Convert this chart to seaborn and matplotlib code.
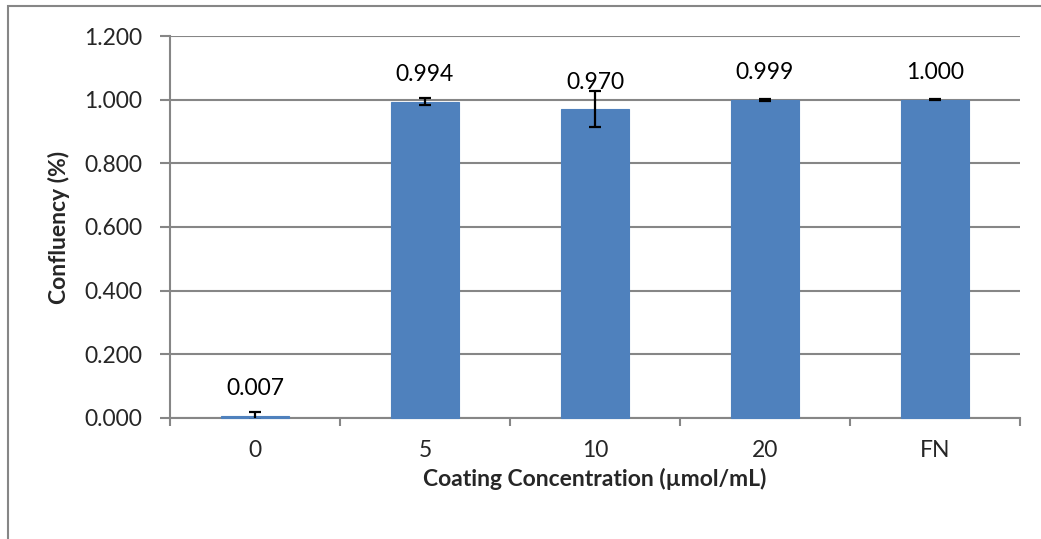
import numpy as np
import pandas as pd
import seaborn as sns
import matplotlib.pyplot as plt
from matplotlib.patches import Rectangle

concentrations = ["0", "5", "10", "20", "FN"]
confluency = [0.007, 0.994, 0.970, 0.999, 1.000]
errors = [0.012, 0.011, 0.057, 0.004, 0.002]

sns.set_theme(style="white")
plt.rcParams["font.family"] = ["Lato", "DejaVu Sans"]

grey = "#868686"
bar_color = "#4F81BD"

df = pd.DataFrame({"conc": concentrations, "conf": confluency})

fig = plt.figure(figsize=(10.41, 5.39), dpi=100)
ax = fig.add_axes([0.1633, 0.2245, 0.8165, 0.7087])

sns.barplot(data=df, x="conc", y="conf", color=bar_color, saturation=1,
            width=0.4, errorbar=None, ax=ax, zorder=3,
            edgecolor=bar_color, linewidth=0.8)
for bar in ax.patches:
    bar.set_clip_on(False)

# error bars at the bar positions
ax.errorbar(np.arange(len(confluency)), confluency, yerr=errors, fmt="none",
            ecolor="black", elinewidth=1.6, capsize=4.3, capthick=1.6, zorder=4)

ax.bar_label(ax.containers[0], labels=[f"{v:.3f}" for v in confluency],
             padding=12, fontsize=16.5, color="black")

ax.set_ylim(0, 1.2)
ax.set_yticks(np.arange(0, 1.21, 0.2))
ax.set_yticklabels([f"{v:.3f}" for v in np.arange(0, 1.21, 0.2)])
ax.set_xlim(-0.5, len(concentrations) - 0.5)
ax.yaxis.grid(True, color=grey, linewidth=1.5, zorder=0)
ax.set_axisbelow(True)

for side in ["top", "right"]:
    ax.spines[side].set_visible(False)
for side in ["left", "bottom"]:
    ax.spines[side].set_color(grey)
    ax.spines[side].set_linewidth(1.5)

ax.tick_params(axis="y", which="major", direction="out", length=7, width=1.5,
               color=grey, pad=13, labelsize=16.5, left=True)
ax.tick_params(axis="x", which="major", length=0, pad=16, labelsize=16.5)
ax.set_xticks(np.arange(-0.5, len(concentrations), 1.0), minor=True)
ax.tick_params(axis="x", which="minor", direction="out", length=6, width=1.5,
               color=grey, bottom=True)

ax.set_xlabel("Coating Concentration (µmol/mL)", fontsize=16.5,
              fontweight="bold", labelpad=5)
ax.set_ylabel("Confluency (%)", fontsize=16.5, fontweight="bold", labelpad=10)

# chart area border (cut by the image edge on the right and bottom)
fig.add_artist(Rectangle((8 / 1041, -0.1), 2, 1 - 6 / 539 + 0.1,
                         transform=fig.transFigure, fill=False,
                         edgecolor=grey, linewidth=1.5))

fig.savefig("out.png", dpi=100, facecolor="white")
